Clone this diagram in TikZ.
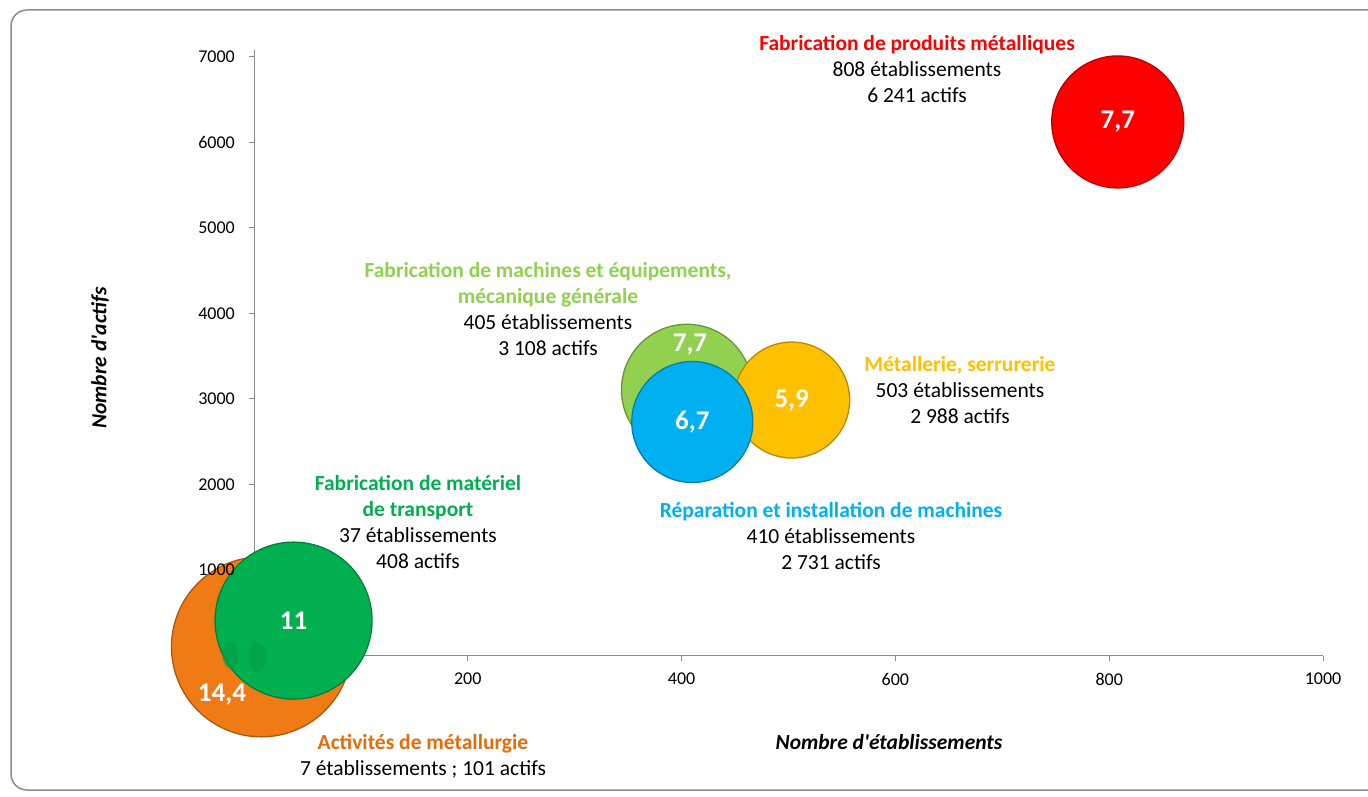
\documentclass[tikz,border=0pt]{standalone}
\usepackage{fontspec}
\setmainfont{Carlito}
\definecolor{rouge}{HTML}{FF0000}
\definecolor{vertclair}{HTML}{92D050}
\definecolor{jaune}{HTML}{FFC000}
\definecolor{bleu}{HTML}{00B0F0}
\definecolor{vertfonce}{HTML}{00B050}
\definecolor{orange}{HTML}{F07A14}
\definecolor{orangetxt}{HTML}{E46C0A}
\definecolor{axe}{HTML}{8C8C8C}
\begin{document}
\begin{tikzpicture}[x=1pt,y=1pt,
  lbl/.style={font=\fontsize{21.5}{26}\selectfont,align=center,inner sep=0pt},
  tick/.style={font=\fontsize{18}{20}\selectfont,text=black,inner sep=0pt},
  bulle/.style={circle,inner sep=0pt,fill=#1,draw=#1!72!black,line width=1.3pt},
  val/.style={font=\fontsize{27}{30}\selectfont\bfseries,text=white,inner sep=0pt}]
\useasboundingbox (0,0) rectangle (1368,796);
\begin{scope}
\clip (0,0) rectangle (1368,796);
\draw[axe,line width=1.5pt,rounded corners=16] (11,6) rectangle (1385,786);
\end{scope}

% axes
\coordinate (o) at (254,140.5);
\coordinate (ytop) at (254,746);
\coordinate (xleft) at (173,140.5);
\coordinate (xright) at (1323,140.5);
\draw[axe,line width=1pt] (ytop) -- (o);
\draw[axe,line width=1pt] (xleft) -- (xright);
\foreach \v in {1,...,7}
  \draw[axe,line width=1pt] (249,140.5+85.5*\v) -- (254,140.5+85.5*\v);
\foreach \v/\p in {200/467.8,400/681.6,600/895.4,800/1109.2,1000/1323}
  \draw[axe,line width=1pt] (\p,140.5) -- (\p,135.5)
    node[tick,anchor=north,yshift=-12pt] (xt\v) {\v};
\node[font=\fontsize{21.5}{26}\selectfont\bfseries\itshape,rotate=90] (ytitre) at (100,438) {Nombre d\textquotesingle actifs};
\node[font=\fontsize{21.5}{26}\selectfont\bfseries\itshape] (xtitre) at (889,54) {Nombre d\textquotesingle établissements};

% bulles (aire proportionnelle a la valeur)
\begin{scope}[shift={(o)},x=1.069pt,y=0.0855pt]
\node[bulle=orange,minimum size=180pt] (metal) at (7,101) {};
\node[bulle=vertfonce,minimum size=157pt] (transp) at (37,408) {};
\fill[vertfonce!90!black,opacity=.6] (232-254,150-140.5) ellipse (8pt and 14pt);
\fill[vertfonce!90!black,opacity=.6] (257-254,126-140.5) ellipse (9pt and 15pt);
\node[bulle=vertclair,minimum size=131pt] (mach) at (405,3108) {};
\node[bulle=jaune,minimum size=116pt] (serr) at (503,2988) {};
\node[bulle=bleu,minimum size=121pt] (repar) at (410,2731) {};
\node[bulle=rouge,minimum size=132pt] (prod) at (808,6241) {};
\end{scope}
\node[val] (vprod) at (prod) {7,7};
\node[val] (vmach) at (690,451) {7,7};
\node[val] (vrepar) at (repar) {6,7};
\node[val] (vserr) at (serr) {5,9};
\node[val] (vtransp) at (transp) {11};
\node[val] (vmetal) at (222,101) {14,4};

% graduations verticales (par-dessus les bulles)
\foreach \v in {1,...,7}
  \node[tick,anchor=east] (yt\v) at (235,140.5+85.5*\v) {\v000};

% etiquettes
\node[lbl,anchor=north] (eprod) at (917,761) {{\bfseries\color{rouge}Fabrication de produits métalliques}\\808 établissements\\6 241 actifs};
\node[lbl,anchor=north] (emach) at (548,534) {{\bfseries\color{vertclair}Fabrication de machines et équipements,}\\{\bfseries\color{vertclair}mécanique générale}\\405 établissements\\3 108 actifs};
\node[lbl,anchor=north] (eserr) at (960,440) {{\bfseries\color{jaune}Métallerie, serrurerie}\\503 établissements\\2 988 actifs};
\node[lbl,anchor=north] (erepar) at (831,294) {{\bfseries\color{bleu}Réparation et installation de machines}\\410 établissements\\2 731 actifs};
\node[lbl,anchor=north] (etransp) at (418,321) {{\bfseries\color{vertfonce}Fabrication de matériel}\\{\bfseries\color{vertfonce}de transport}\\37 établissements\\408 actifs};
\node[lbl,anchor=north] (emetal) at (423,62) {{\bfseries\color{orangetxt}Activités de métallurgie}\\7 établissements ; 101 actifs};
\end{tikzpicture}
\end{document}
